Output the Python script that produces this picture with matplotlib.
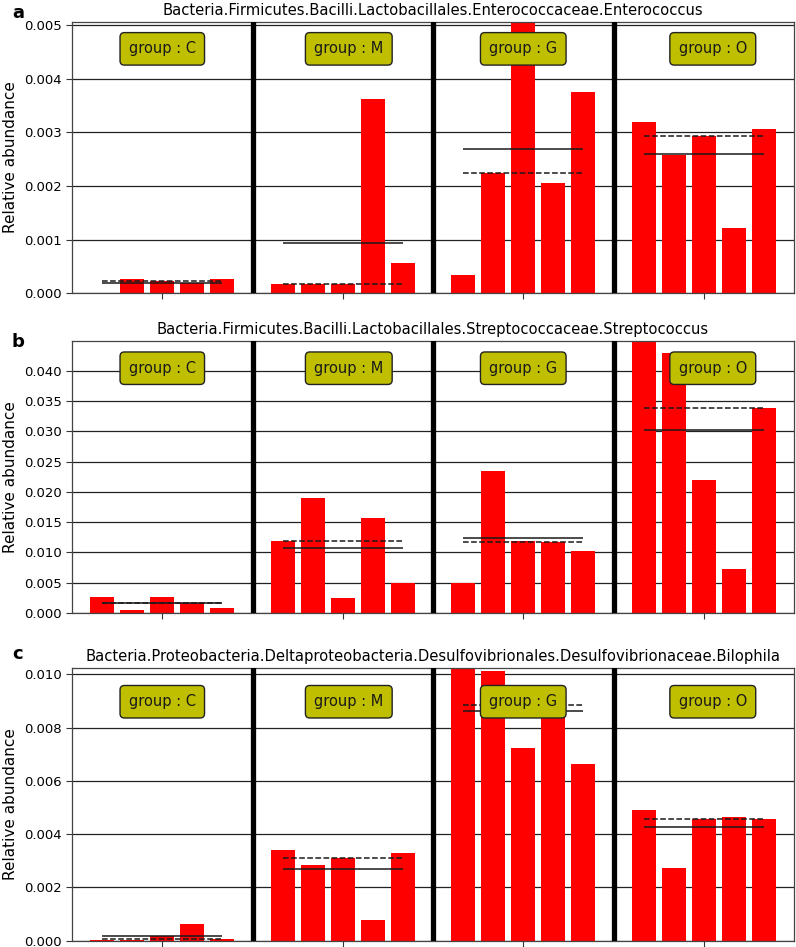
import numpy as np
import matplotlib.pyplot as plt

GROUPS = ["C", "M", "G", "O"]

TITLES = [
    "Bacteria.Firmicutes.Bacilli.Lactobacillales.Enterococcaceae.Enterococcus",
    "Bacteria.Firmicutes.Bacilli.Lactobacillales.Streptococcaceae.Streptococcus",
    "Bacteria.Proteobacteria.Deltaproteobacteria.Desulfovibrionales.Desulfovibrionaceae.Bilophila",
]
PANEL_LABELS = ["a", "b", "c"]

# relative abundance per sample, 5 samples per group (C, M, G, O)
enterococcus = [
    [0.0, 0.00026, 0.00022, 0.00019, 0.00026],
    [0.00017, 0.00017, 0.000168, 0.00362, 0.00056],
    [0.000347, 0.002236, 0.00506, 0.002056, 0.003757],
    [0.003187, 0.002583, 0.002931, 0.001217, 0.003062],
]
streptococcus = [
    [0.00259, 0.000495, 0.00269, 0.0016, 0.00077],
    [0.01193, 0.01903, 0.00242, 0.01562, 0.0050],
    [0.0050, 0.02348, 0.01193, 0.01166, 0.01023],
    [0.0449, 0.04285, 0.02195, 0.00721, 0.03378],
]
bilophila = [
    [0.00002, 0.00004, 0.00018, 0.000627, 0.00005],
    [0.003404, 0.002842, 0.003104, 0.000788, 0.00328],
    [0.01024, 0.01013, 0.00722, 0.00885, 0.00663],
    [0.004895, 0.002718, 0.004557, 0.004632, 0.00458],
]

YTICK_STEPS = [0.001, 0.005, 0.002]


def main():
    fig = plt.figure(figsize=(7.96, 9.47), dpi=100)
    datasets = [enterococcus, streptococcus, bilophila]
    # axes rectangles [left, bottom, width, height] in figure fraction
    rects = [
        [0.0905, 0.6903, 0.907, 0.2868],
        [0.0905, 0.3527, 0.907, 0.2872],
        [0.0905, 0.0067, 0.907, 0.2880],
    ]
    label_y = [0.981, 0.6336, 0.3041]
    box_y = [0.9, 0.9, 0.876]
    box_dx = [0.0, 0.2, 0.0, 0.3]

    for p, data in enumerate(datasets):
        ax = fig.add_axes(rects[p])
        ymax = max(max(g) for g in data)
        n = len(data[0])
        width = n + 1
        for gi, vals in enumerate(data):
            start = gi * width
            xs = start + 1 + np.arange(n)
            ax.bar(xs, vals, width=0.8, color="red", zorder=2)
            # mean (solid) and median (dashed) of the group
            ax.hlines(np.mean(vals), xs[0], xs[-1], colors="#1a1a1a",
                      linewidth=1.1, zorder=3)
            ax.hlines(np.median(vals), xs[0], xs[-1], colors="#1a1a1a",
                      linewidth=1.1, linestyles="--", zorder=3)
            if gi > 0:
                ax.axvline(start, color="black", linewidth=3.8, zorder=4)
            ax.text((start + width / 2 + box_dx[gi]) / (width * len(data)),
                    box_y[p], f"group : {GROUPS[gi]}",
                    transform=ax.transAxes, ha="center", va="center",
                    fontsize=10.5, color="#1a1a1a", zorder=5,
                    bbox=dict(boxstyle="round,pad=0.6,rounding_size=0.3",
                              facecolor="#bfbf00", edgecolor="#222222",
                              linewidth=1.0))

        ax.set_xlim(0, width * len(data))
        ax.set_ylim(0, ymax)
        step = YTICK_STEPS[p]
        ticks = np.arange(0, ymax + 1e-12, step)
        ax.set_yticks(ticks)
        ax.set_yticklabels([f"{t:.3f}" for t in ticks])
        ax.yaxis.grid(True, color="#222222", linewidth=0.9)
        ax.set_axisbelow(True)
        ax.set_xticks([g * width + width / 2 for g in range(len(data))])
        ax.set_xticklabels([])
        ax.tick_params(axis="both", labelsize=9.5, length=4, color="#333333")
        for s in ax.spines.values():
            s.set_color("#444444")
            s.set_linewidth(0.9)
        ax.set_ylabel("Relative abundance", fontsize=11)
        ax.set_title(TITLES[p], fontsize=10.6, pad=5)
        fig.text(0.015, label_y[p], PANEL_LABELS[p], fontsize=13,
                 fontweight="bold", ha="left", va="baseline")

    fig.savefig("out.png", dpi=100)


if __name__ == '__main__':
    main()
